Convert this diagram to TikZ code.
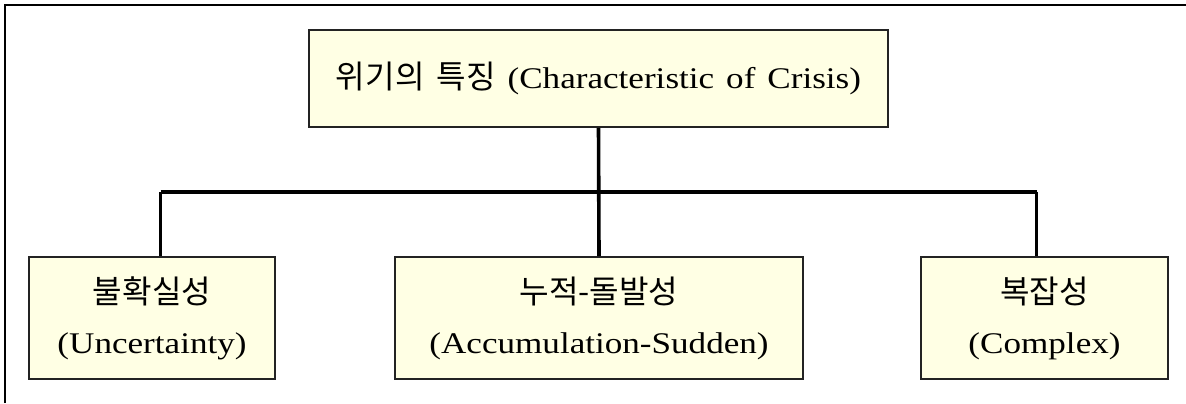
\documentclass[tikz,border=0pt]{standalone}
\usepackage{fontspec}
\setmainfont[FakeStretch=1.17]{Liberation Serif}
\newfontfamily\kr[Scale=1.07]{Noto Sans CJK KR}
\usepackage{xcolor}
\definecolor{boxfill}{RGB}{255,255,228}
\definecolor{boxline}{RGB}{35,35,35}

\tikzset{
  featbox/.style={draw=boxline, line width=0.8pt, fill=boxfill, inner sep=0pt, align=center,
                  font=\fontsize{15}{25}\selectfont},
  link/.style={line width=1.8pt, black}
}

\begin{document}
\begin{tikzpicture}[x=0.5pt, y=-0.5pt]
   \useasboundingbox (0,0) rectangle (1186,403);
   % outer frame (top and left only)
   \draw[line width=0.8pt] (5,403) -- (5,5) -- (1186,5);

   % root
   \node[featbox, minimum width=289.5pt, minimum height=48.5pt] (crisis) at (598.5,78.5)
         {\spaceskip=0.4em {\kr 위기의 특징} (Characteristic of Crisis)};

   % three characteristics
   \node[featbox, minimum width=123pt, minimum height=61pt] (unc) at (152,318)
         {{\kr 불확실성}\\(Uncertainty)};
   \node[featbox, minimum width=204pt, minimum height=61pt] (acc) at (599,318)
         {{\kr 누적-돌발성}\\(Accumulation-Sudden)};
   \node[featbox, minimum width=123.5pt, minimum height=61pt] (cpx) at (1044.5,318)
         {{\kr 복잡성}\\(Complex)};

   % connectors
   \coordinate (jl) at (160.5,192);
   \coordinate (jr) at (1036.5,192);
   \draw[link] (jl) -- (jr);
   \draw[link] (crisis.south) -- (acc.north);
   \draw[link] (jl) -- (jl |- unc.north);
   \draw[link] (jr) -- (jr |- cpx.north);
\end{tikzpicture}
\end{document}
